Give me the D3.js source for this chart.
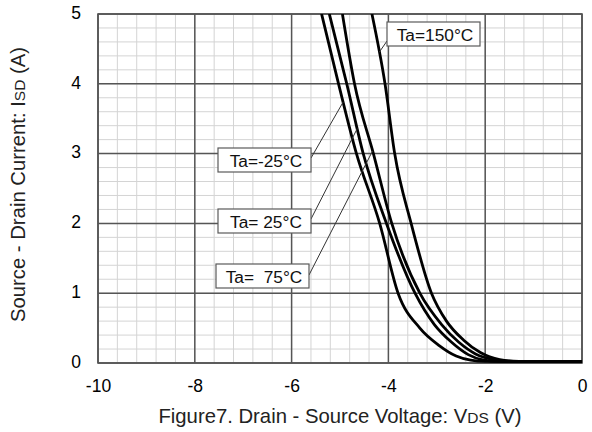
<!DOCTYPE html>
<html>
<head>
<meta charset="utf-8">
<script src="https://cdn.jsdelivr.net/npm/d3@7"></script>
<style>
  html, body { margin: 0; padding: 0; background: #fff; }
  svg { display: block; font-family: "Liberation Sans", Arial, sans-serif; }
</style>
</head>
<body>
<svg id="chart" width="592" height="432"></svg>
<script>
// ---- data ----
const xTicks = [-10, -8, -6, -4, -2, 0];
const yTicks = [0, 1, 2, 3, 4, 5];
const seriesNames = ["Ta=-25°C", "Ta= 25°C", "Ta=  75°C", "Ta=150°C"];

// Ta = -25°C
const vM25 = [-5.38, -5.03, -4.66, -4.18, -3.80, -3.35, -2.95, -2.60, -2.30, -2.00, -1.00, 0];
const iM25 = [5.0, 4.0, 3.0, 2.0, 1.0, 0.50, 0.25, 0.10, 0.04, 0.022, 0.02, 0.02];
// Ta = 25°C
const v25 = [-5.22, -4.86, -4.52, -4.04, -3.45, -3.05, -2.70, -2.35, -2.05, -1.70, -1.00, 0];
const i25 = [5.0, 4.0, 3.0, 2.0, 1.0, 0.55, 0.30, 0.12, 0.045, 0.022, 0.02, 0.02];
// Ta = 75°C
const v75 = [-4.95, -4.70, -4.31, -3.93, -3.35, -2.90, -2.55, -2.20, -1.80, -1.50, -1.00, 0];
const i75 = [5.0, 4.0, 3.0, 2.0, 1.0, 0.55, 0.30, 0.13, 0.045, 0.024, 0.02, 0.02];
// Ta = 150°C
const v150 = [-4.34, -4.07, -3.87, -3.53, -3.11, -2.80, -2.45, -2.10, -1.70, -1.30, -1.00, 0];
const i150 = [5.0, 4.0, 3.0, 2.0, 1.0, 0.60, 0.33, 0.15, 0.05, 0.024, 0.02, 0.02];

const seriesV = [vM25, v25, v75, v150];
const seriesI = [iM25, i25, i75, i150];

// ---- layout ----
const svg = d3.select("#chart");
const L = 98, R = 582, T = 14, B = 363;
const x = d3.scaleLinear().domain([-10, 0]).range([L, R]);
const y = d3.scaleLinear().domain([0, 5]).range([B, T]);

// minor grid
const g = svg.append("g");
g.selectAll("line.mx").data(d3.range(-10, 0.001, 0.4)).join("line")
  .attr("x1", d => x(d)).attr("x2", d => x(d)).attr("y1", T).attr("y2", B)
  .attr("stroke", "#d4d4d4").attr("stroke-width", 1);
g.selectAll("line.my").data(d3.range(0, 5.001, 0.2)).join("line")
  .attr("y1", d => y(d)).attr("y2", d => y(d)).attr("x1", L).attr("x2", R)
  .attr("stroke", "#d4d4d4").attr("stroke-width", 1);
// major grid
g.selectAll("line.Mx").data(xTicks).join("line")
  .attr("x1", d => x(d)).attr("x2", d => x(d)).attr("y1", T).attr("y2", B)
  .attr("stroke", "#555").attr("stroke-width", 1.5);
g.selectAll("line.My").data(yTicks).join("line")
  .attr("y1", d => y(d)).attr("y2", d => y(d)).attr("x1", L).attr("x2", R)
  .attr("stroke", "#555").attr("stroke-width", 1.5);
svg.append("rect").attr("x", L).attr("y", T).attr("width", R - L).attr("height", B - T)
  .attr("fill", "none").attr("stroke", "#555").attr("stroke-width", 1.6);

// axes (labels only)
const fmt = d => String(d);
const xAxis = svg.append("g").attr("transform", `translate(0,${B})`)
  .call(d3.axisBottom(x).tickValues(xTicks).tickSize(0).tickPadding(17).tickFormat(fmt));
xAxis.select(".domain").remove();
xAxis.selectAll("text").attr("font-size", 17.5).attr("fill", "#000")
  .attr("font-family", "Liberation Sans, Arial, sans-serif");
const yAxis = svg.append("g").attr("transform", `translate(${L},0)`)
  .call(d3.axisLeft(y).tickValues(yTicks).tickSize(0).tickPadding(17).tickFormat(fmt));
yAxis.select(".domain").remove();
yAxis.selectAll("text").attr("font-size", 17.5).attr("fill", "#000").attr("dy", "0.25em")
  .attr("font-family", "Liberation Sans, Arial, sans-serif");

// clip
svg.append("clipPath").attr("id", "clip").append("rect")
  .attr("x", L).attr("y", T).attr("width", R - L).attr("height", B - T);

// curves
const line = d3.line().x(d => x(d[0])).y(d => y(d[1])).curve(d3.curveMonotoneX);
const curves = svg.append("g").attr("clip-path", "url(#clip)");
seriesV.forEach((vs, k) => {
  const pts = vs.map((v, j) => [v, seriesI[k][j]]);
  curves.append("path").attr("d", line(pts)).attr("fill", "none")
    .attr("stroke", "#000").attr("stroke-width", 2.8).attr("stroke-linejoin", "round");
});

// helper: V on a series at current I (linear)
function vAt(k, I) {
  const vs = seriesV[k], is = seriesI[k];
  for (let j = 0; j < is.length - 1; j++) {
    if (I <= is[j] && I >= is[j + 1]) {
      const t = (I - is[j]) / (is[j + 1] - is[j]);
      return vs[j] + t * (vs[j + 1] - vs[j]);
    }
  }
  return vs[0];
}

// annotations: box (left, top) in px, leader start in px, target current on curve
const ann = [
  { k: 0, bx: 218, by: 148, sx: 311, sy: 158, I: 3.74 },
  { k: 1, bx: 218, by: 209, sx: 311, sy: 219, I: 3.36 },
  { k: 2, bx: 216, by: 264, sx: 309, sy: 275, I: 3.04 },
  { k: 3, bx: 387, by: 22, sx: 387, sy: 41, I: 4.45 },
];
const annG = svg.append("g");
ann.forEach(a => {
  annG.append("line").attr("x1", a.sx).attr("y1", a.sy)
    .attr("x2", x(vAt(a.k, a.I))).attr("y2", y(a.I))
    .attr("stroke", "#333").attr("stroke-width", 1);
});
ann.forEach(a => {
  annG.append("rect").attr("x", a.bx).attr("y", a.by).attr("width", 93).attr("height", 24)
    .attr("fill", "#fff").attr("stroke", "#5a5a5a").attr("stroke-width", 1.2);
  annG.append("text").attr("x", a.bx + 48).attr("y", a.by + 18.5)
    .attr("text-anchor", "middle").attr("font-size", 17.3).attr("fill", "#111")
    .style("white-space", "pre").text(seriesNames[a.k]);
});

// axis titles
const xt = svg.append("text").attr("x", (L + R) / 2).attr("y", 423)
  .attr("text-anchor", "middle").attr("font-size", 20.3).attr("fill", "#222");
xt.append("tspan").text("Figure7. Drain - Source Voltage: V");
xt.append("tspan").attr("font-size", 15.5).text("DS");
xt.append("tspan").text(" (V)");

const yt = svg.append("text").attr("transform", `translate(25,${(T + B) / 2 - 4}) rotate(-90)`)
  .attr("text-anchor", "middle").attr("font-size", 20.3).attr("fill", "#222");
yt.append("tspan").text("Source - Drain Current: I");
yt.append("tspan").attr("font-size", 15.5).text("SD");
yt.append("tspan").text(" (A)");
</script>
</body>
</html>
